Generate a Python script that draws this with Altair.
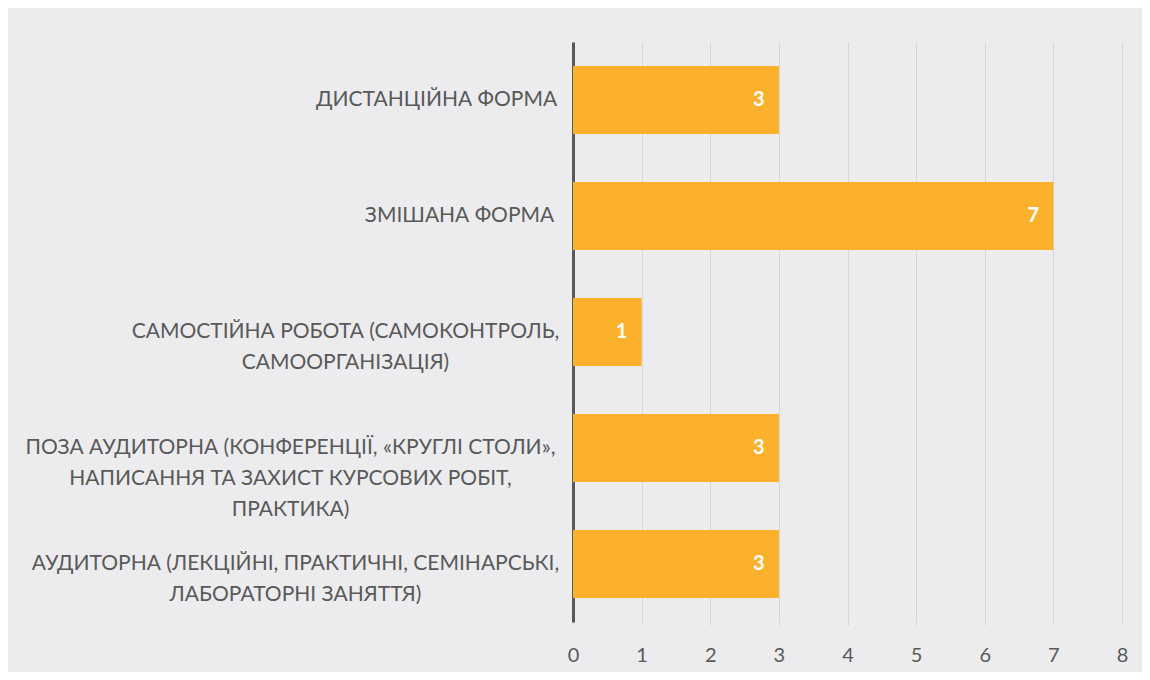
import altair as alt
import pandas as pd

categories = [
    "ДИСТАНЦІЙНА ФОРМА",
    "ЗМІШАНА ФОРМА",
    "САМОСТІЙНА РОБОТА (САМОКОНТРОЛЬ,|САМООРГАНІЗАЦІЯ)",
    "ПОЗА АУДИТОРНА (КОНФЕРЕНЦІЇ, «КРУГЛІ СТОЛИ»,|НАПИСАННЯ ТА ЗАХИСТ КУРСОВИХ РОБІТ,|ПРАКТИКА)",
    "АУДИТОРНА (ЛЕКЦІЙНІ, ПРАКТИЧНІ, СЕМІНАРСЬКІ,|ЛАБОРАТОРНІ ЗАНЯТТЯ)",
]
values = [3, 7, 1, 3, 3]
x_ticks = [0, 1, 2, 3, 4, 5, 6, 7, 8]
# half-widths of each label block (px) to centre lines within right-aligned blocks
half_widths = [119, 96, 210, 265, 260]

df = pd.DataFrame({"cat": categories, "val": values})

FONT = "Lato"
TEXT = "#595959"

pad_cond = [
    {"test": f"datum.value === {c!r}", "value": 18 + h}
    for c, h in zip(categories, half_widths)
]

y_enc = alt.Y(
    "cat:N",
    sort=categories,
    scale=alt.Scale(paddingInner=0.414, paddingOuter=0.207),
    axis=alt.Axis(
        title=None,
        labelExpr="split(datum.label, '|')",
        labelAlign="center",
        labelBaseline="middle",
        labelPadding={"condition": pad_cond, "value": 18},
        labelFont=FONT,
        labelFontSize=21,
        labelColor=TEXT,
        labelLineHeight=31,
        labelLimit=0,
        ticks=False,
        grid=False,
        domainColor="#595959",
        domainWidth=3,
    ),
)

x_enc = alt.X(
    "val:Q",
    scale=alt.Scale(domain=[0, 8], nice=False),
    axis=alt.Axis(
        title=None,
        values=x_ticks,
        format="d",
        labelFont=FONT,
        labelFontSize=20,
        labelColor=TEXT,
        labelPadding=20,
        labelFlush=False,
        grid=True,
        gridColor="#d6d6d6",
        gridWidth=1,
        domain=False,
        ticks=True,
        tickSize=3,
        tickColor="#d6d6d6",
    ),
)

bars = alt.Chart(df).mark_bar(color="#FBB12B").encode(x=x_enc, y=y_enc)

labels = alt.Chart(df).mark_text(
    color="white", font=FONT, fontSize=20, fontWeight="bold", align="center", dx=-20
).encode(
    x=alt.X("val:Q"),
    y=alt.Y("cat:N", sort=categories),
    text=alt.Text("val:Q"),
)

chart = (
    alt.layer(bars, labels)
    .properties(
        width=549,
        height=580,
        autosize=alt.AutoSizeParams(type="none"),
        padding={"left": 565, "top": 34, "right": 20, "bottom": 50},
        background="#ececef",
    )
    .configure_view(stroke=None)
)

chart.save("out.html", embed_options={"renderer": "svg", "actions": False})
